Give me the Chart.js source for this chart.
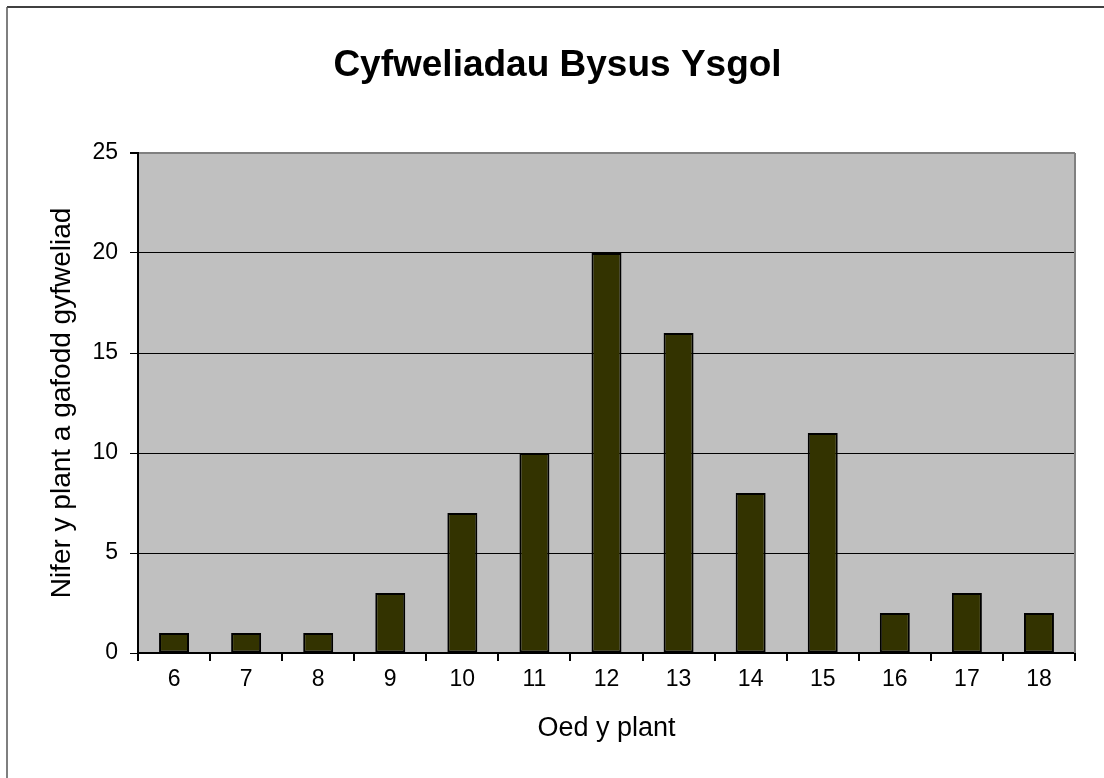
<!DOCTYPE html>
<html>
<head>
<meta charset="utf-8">
<script src="https://cdn.jsdelivr.net/npm/chart.js@4/dist/chart.umd.min.js"></script>
<style>
    html, body { margin: 0; padding: 0; background: #fff; }
    #wrap { width: 1104px; height: 778px; position: relative; }
</style>
</head>
<body>
<div id="wrap"><canvas id="chart"></canvas></div>
<script>
// Oedran y plant (categories) and nifer a gafodd gyfweliad (values)
const ages = ['6', '7', '8', '9', '10', '11', '12', '13', '14', '15', '16', '17', '18'];
const counts = [1, 1, 1, 3, 7, 10, 20, 16, 8, 11, 2, 3, 2];
const yTicks = [0, 5, 10, 15, 20, 25];

const FONT = "'Liberation Sans', Arial, sans-serif";

// grey plot background + frame, and the outer chart border
const plotFrame = {
    id: 'plotFrame',
    beforeDraw: (chart) => {
        const { ctx, chartArea: a } = chart;
        ctx.save();
        ctx.fillStyle = '#c0c0c0';
        ctx.fillRect(a.left, a.top, a.right - a.left, a.bottom - a.top);
        ctx.restore();
    },
    afterDraw: (chart) => {
        const { ctx, chartArea: a } = chart;
        ctx.save();
        // plot right edge
        ctx.strokeStyle = '#808080';
        ctx.lineWidth = 2;
        ctx.beginPath();
        ctx.moveTo(a.right, a.top);
        ctx.lineTo(a.right, a.bottom);
        ctx.stroke();
        // outer border (top and left only visible)
        ctx.lineWidth = 1.5;
        ctx.strokeStyle = '#000';
        ctx.beginPath();
        ctx.moveTo(7, 7);
        ctx.lineTo(chart.width, 7);
        ctx.stroke();
        ctx.strokeStyle = '#555';
        ctx.beginPath();
        ctx.moveTo(7, 7);
        ctx.lineTo(7, chart.height);
        ctx.stroke();
        ctx.restore();
    }
};

new Chart(document.getElementById('chart'), {
    type: 'bar',
    data: {
        labels: ages,
        datasets: [{
            data: counts,
            backgroundColor: '#333300',
            borderColor: '#000',
            borderWidth: 2,
            borderSkipped: false,
            barPercentage: 0.416,
            categoryPercentage: 1
        }]
    },
    options: {
        responsive: true,
        maintainAspectRatio: false,
        animation: false,
        layout: { padding: { top: 0, left: 40, right: 29, bottom: 0 } },
        plugins: {
            legend: { display: false },
            tooltip: { enabled: false },
            title: {
                display: true,
                text: 'Cyfweliadau Bysus Ysgol',
                color: '#000',
                font: { family: FONT, size: 37, weight: 'bold', lineHeight: 1.2 },
                padding: { top: 44, bottom: 64.6 }
            }
        },
        scales: {
            x: {
                offset: true,
                grid: {
                    offset: true,
                    drawOnChartArea: false,
                    drawTicks: true,
                    tickLength: 8,
                    color: '#000',
                    lineWidth: 2
                },
                border: { color: '#000', width: 2 },
                ticks: {
                    color: '#000',
                    padding: 5,
                    maxRotation: 0,
                    font: { family: FONT, size: 23 }
                },
                title: {
                    display: true,
                    text: 'Oed y plant',
                    color: '#000',
                    font: { family: FONT, size: 27, lineHeight: 1.2 },
                    padding: { top: 33, bottom: 33 }
                },
                afterFit: (scale) => { scale.height = 125; }
            },
            y: {
                min: 0,
                max: 25,
                afterBuildTicks: (scale) => { scale.ticks = yTicks.map(v => ({ value: v })); },
                grid: {
                    color: (c) => (c.tick && c.tick.value === 25 ? '#808080' : '#000'),
                    tickColor: '#000',
                    lineWidth: (c) => (c.tick && c.tick.value === 25 ? 2 : 1),
                    tickLength: 8
                },
                border: { color: '#000', width: 2 },
                ticks: {
                    color: '#000',
                    padding: 12,
                    font: { family: FONT, size: 23 }
                },
                title: {
                    display: true,
                    text: 'Nifer y plant a gafodd gyfweliad',
                    color: '#000',
                    font: { family: FONT, size: 28, lineHeight: 1.2 },
                    padding: { top: 5, bottom: 0 }
                },
                afterFit: (scale) => { scale.width = 98; }
            }
        }
    },
    plugins: [plotFrame]
});
</script>
</body>
</html>
